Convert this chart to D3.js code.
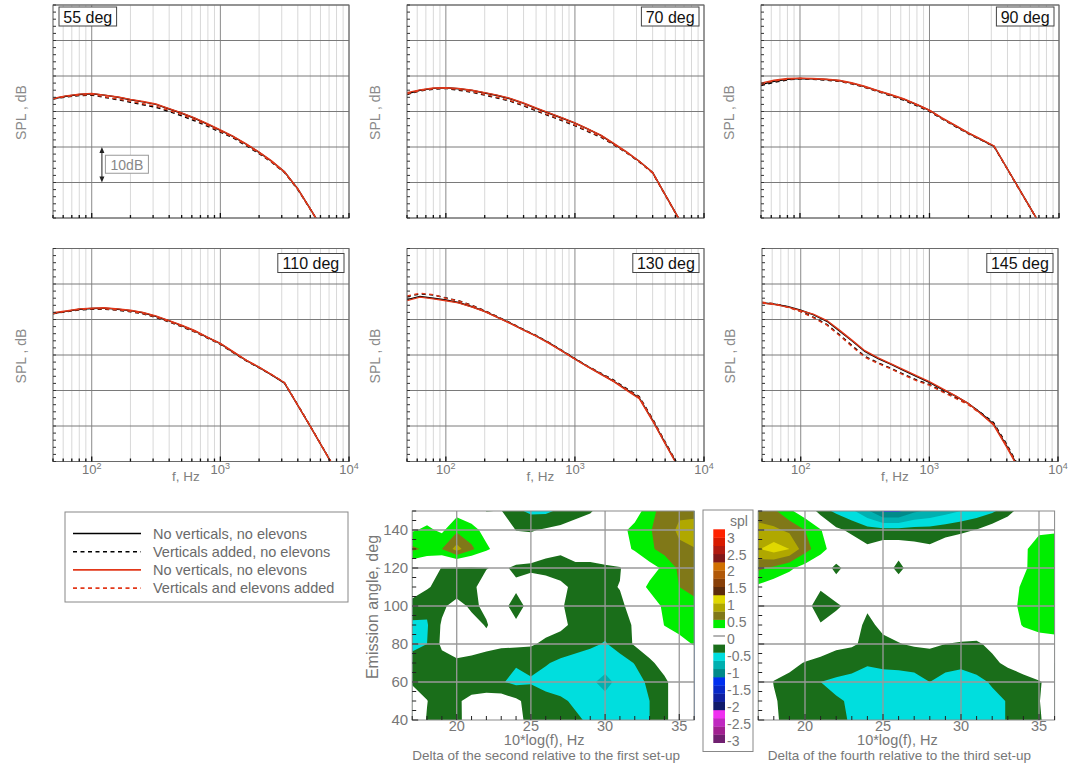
<!DOCTYPE html>
<html><head><meta charset="utf-8">
<script src="https://cdn.jsdelivr.net/npm/d3@7"></script>
<style>body{margin:0;background:#fff;} svg{display:block;font-family:"Liberation Sans",Arial,sans-serif;}</style>
</head><body><svg id="c" width="1071" height="767"></svg>
<script>
// ---------- DATA ----------
const frequencies = [50,63,80,100,125,160,200,250,315,400,500,630,800,1000,1250,1600,2000,2500,3150,4000,5000,6300,8000];
const panelAngles = [55,70,90,110,130,145];
const seriesLabels = ["No verticals, no elevons","Verticals added, no elevons","No verticals, no elevons","Verticals and elevons added"];

const spl55_black     = [73.6,74.3,74.8,75.0,74.6,74.0,73.3,72.7,72.0,70.7,69.5,68.1,66.4,64.7,63.0,60.7,58.5,56.0,53.0,48.2,42.6,36.6,30.5];
const spl55_blackDash = [73.5,74.1,74.5,74.6,74.0,73.3,72.6,71.9,71.2,70.0,68.8,67.4,65.8,64.2,62.6,60.3,58.1,55.7,52.8,48.0,42.5,36.5,30.4];
const spl55_red       = [73.7,74.4,74.9,75.1,74.6,74.1,73.4,72.8,72.1,70.8,69.6,68.2,66.5,64.8,63.1,60.8,58.6,56.1,53.0,48.2,42.6,36.6,30.5];
const spl55_redDash   = [73.6,74.2,74.6,74.8,74.2,73.5,72.9,72.2,71.5,70.3,69.1,67.7,66.1,64.4,62.8,60.5,58.3,55.8,52.9,48.1,42.5,36.5,30.4];

const spl70_black     = [75.0,76.0,76.5,76.7,76.4,75.9,75.2,74.5,73.6,72.3,70.9,69.5,68.1,66.7,65.1,63.2,60.9,58.6,56.0,52.8,46.6,40.2,33.5];
const spl70_blackDash = [74.8,75.8,76.3,76.5,76.0,75.4,74.6,73.8,72.9,71.6,70.2,68.8,67.4,66.0,64.4,62.7,60.6,58.4,55.8,52.7,46.5,40.1,33.4];
const spl70_red       = [75.3,76.1,76.6,76.7,76.5,76.0,75.3,74.6,73.7,72.4,71.0,69.6,68.2,66.8,65.2,63.3,61.0,58.7,56.0,52.8,46.6,40.2,33.5];
const spl70_redDash   = [75.0,75.9,76.4,76.6,76.2,75.6,74.8,74.0,73.1,71.8,70.4,69.0,67.6,66.2,64.6,62.9,60.7,58.5,55.9,52.7,46.5,40.1,33.4];

const spl90_black     = [77.6,78.5,79.1,79.3,79.2,79.0,78.7,78.0,77.0,75.8,74.7,73.5,71.9,70.3,68.1,65.9,63.9,62.1,60.2,53.8,47.8,41.6,35.0];
const spl90_blackDash = [77.3,78.2,78.9,79.2,79.1,78.8,78.5,77.8,76.8,75.6,74.4,73.2,71.6,70.0,67.9,65.7,63.7,62.0,60.1,53.7,47.7,41.5,34.9];
const spl90_red       = [78.0,78.8,79.3,79.4,79.3,79.1,78.8,78.1,77.1,75.9,74.8,73.6,72.0,70.4,68.2,66.0,64.0,62.2,60.3,53.8,47.8,41.6,35.0];
const spl90_redDash   = [77.7,78.6,79.1,79.3,79.2,79.0,78.6,77.9,76.9,75.7,74.6,73.4,71.8,70.2,68.0,65.8,63.8,62.1,60.2,53.7,47.7,41.5,34.9];

const spl110_black     = [81.7,82.3,82.9,83.1,83.2,82.9,82.5,81.9,80.9,79.6,78.3,76.8,74.9,73.2,70.9,68.4,66.5,64.4,62.1,55.8,49.9,43.6,37.1];
const spl110_blackDash = [81.6,82.2,82.7,82.9,82.9,82.6,82.2,81.6,80.6,79.3,78.0,76.5,74.7,73.0,70.7,68.3,66.4,64.4,62.2,55.9,50.0,43.7,37.2];
const spl110_red       = [81.9,82.4,83.0,83.2,83.3,83.0,82.6,82.0,81.0,79.7,78.4,76.9,75.0,73.3,71.0,68.5,66.6,64.5,62.2,55.8,49.9,43.6,37.1];
const spl110_redDash   = [81.7,82.3,82.8,83.0,83.0,82.7,82.3,81.7,80.7,79.4,78.1,76.6,74.8,73.1,70.8,68.4,66.5,64.5,62.2,55.9,50.0,43.7,37.2];

const spl130_black     = [85.6,86.5,86.0,85.5,84.8,83.6,82.3,80.7,79.0,77.1,75.4,73.4,71.1,68.9,66.8,64.6,62.6,60.3,57.9,51.6,45.2,38.7,32.2];
const spl130_blackDash = [86.4,87.2,86.9,86.1,85.3,84.0,82.5,80.8,79.1,77.2,75.5,73.5,71.2,69.0,66.9,64.8,62.9,60.6,58.3,52.0,45.5,39.0,32.5];
const spl130_red       = [85.3,86.3,85.8,85.3,84.7,83.5,82.2,80.6,78.9,77.0,75.3,73.3,71.0,68.8,66.7,64.5,62.5,60.1,57.7,51.4,45.0,38.5,32.0];
const spl130_redDash   = [86.6,87.4,87.0,86.0,85.2,83.9,82.4,80.7,79.0,77.1,75.4,73.4,71.1,68.9,66.8,64.7,62.7,60.4,58.1,51.8,45.3,38.8,32.3];

const spl145_black     = [84.7,84.3,83.6,82.6,81.4,79.5,76.8,74.0,71.0,69.0,67.4,65.7,63.9,62.3,60.4,58.4,56.4,53.7,50.6,44.3,37.9,31.3,24.8];
const spl145_blackDash = [84.8,84.4,83.5,82.3,80.7,78.6,75.7,72.7,69.6,67.8,66.3,64.6,62.9,61.7,59.9,58.0,56.2,53.8,51.0,44.8,38.3,31.7,25.2];
const spl145_red       = [84.6,84.2,83.5,82.5,81.5,79.7,77.0,74.2,71.2,69.2,67.6,65.9,64.1,62.5,60.6,58.5,56.4,53.5,50.3,44.0,37.6,31.0,24.5];
const spl145_redDash   = [84.9,84.4,83.4,82.2,80.5,78.4,75.5,72.4,69.4,67.6,66.1,64.4,62.7,61.5,59.7,57.8,56.0,53.5,50.6,44.4,38.0,31.4,24.9];

// contour grids: columns = 10*log(f) 17..36, rows = emission angle 40..150
const deltaLogF  = [17,18,19,20,21,22,23,24,25,26,27,28,29,30,31,32,33,34,35,36];
const deltaAngle = [40,50,60,70,80,90,100,110,120,130,140,150];
const delta2vs1 = [
 [0,-0.27,-0.4,-0.33,-0.1,0.05,0,-0.15,-0.35,-0.4,-0.42,-0.45,-0.55,-0.65,-0.7,-0.62,-0.5,-0.3,-0.1,0],
 [0,-0.24,-0.45,-0.3,-0.15,-0.1,-0.1,-0.2,-0.35,-0.4,-0.45,-0.55,-0.65,-0.7,-0.7,-0.62,-0.5,-0.3,-0.1,0],
 [-0.3,-0.4,-0.4,-0.42,-0.45,-0.45,-0.48,-0.56,-0.52,-0.6,-0.65,-0.7,-0.72,-0.8,-0.7,-0.6,-0.45,-0.3,-0.1,0],
 [-0.35,-0.4,-0.35,-0.3,-0.35,-0.4,-0.42,-0.48,-0.45,-0.48,-0.55,-0.6,-0.65,-0.68,-0.6,-0.49,-0.3,-0.15,0,0],
 [-0.6,-0.5,-0.2,-0.1,-0.1,-0.15,-0.2,-0.2,-0.22,-0.3,-0.35,-0.4,-0.45,-0.52,-0.4,-0.22,-0.1,0,0.15,0.27],
 [-0.55,-0.52,-0.22,-0.1,-0.15,-0.27,-0.1,-0.2,-0.1,-0.15,-0.2,-0.3,-0.4,-0.4,-0.35,-0.22,-0.05,0.26,0.35,0.4],
 [-0.35,-0.45,-0.3,-0.15,-0.3,-0.2,-0.15,-0.36,-0.15,-0.1,-0.22,-0.35,-0.4,-0.4,-0.3,-0.15,0.1,0.3,0.45,0.45],
 [-0.1,-0.22,-0.35,-0.4,-0.3,-0.15,-0.1,-0.2,-0.1,-0.1,-0.2,-0.3,-0.32,-0.3,-0.24,0.1,0.3,0.4,0.5,0.55],
 [0,-0.1,-0.26,-0.28,-0.28,-0.26,-0.2,-0.3,-0.3,-0.35,-0.35,-0.32,-0.32,-0.3,-0.27,0,0.15,0.3,0.55,0.6],
 [0.55,0.45,0.5,0.85,0.55,0.3,0.1,0,-0.1,-0.15,-0.2,-0.1,-0.1,0,0.15,0.28,0.45,0.6,0.7,0.74],
 [0.22,0.3,0.2,0.45,0.35,0.15,0,-0.26,-0.27,-0.22,-0.18,-0.12,-0.05,0,0.15,0.35,0.48,0.62,0.8,0.85],
 [0,0.1,0.05,0.15,0.05,-0.26,-0.24,-0.45,-0.55,-0.55,-0.45,-0.35,-0.28,-0.1,0,0.1,0.42,0.6,0.7,0.68]
];
const delta4vs3 = [
 [0,-0.2,-0.35,-0.4,-0.4,-0.45,-0.52,-0.6,-0.65,-0.65,-0.65,-0.65,-0.65,-0.65,-0.6,-0.55,-0.49,-0.4,-0.28,-0.1],
 [0,-0.22,-0.35,-0.4,-0.45,-0.48,-0.52,-0.6,-0.65,-0.65,-0.65,-0.65,-0.65,-0.65,-0.6,-0.55,-0.49,-0.38,-0.26,-0.1],
 [-0.05,-0.26,-0.3,-0.4,-0.5,-0.55,-0.58,-0.6,-0.6,-0.58,-0.58,-0.5,-0.58,-0.6,-0.55,-0.48,-0.4,-0.35,-0.27,-0.15],
 [0,-0.1,-0.2,-0.26,-0.3,-0.35,-0.4,-0.48,-0.45,-0.45,-0.42,-0.4,-0.42,-0.45,-0.42,-0.3,-0.2,-0.1,0,0],
 [0,0,-0.05,-0.1,-0.15,-0.2,-0.22,-0.3,-0.3,-0.26,-0.22,-0.2,-0.25,-0.27,-0.28,-0.2,-0.1,0,0.1,0.15],
 [0,0,0,-0.05,-0.22,-0.1,-0.15,-0.3,-0.2,-0.15,-0.1,-0.1,-0.1,-0.1,-0.1,-0.05,0.05,0.28,0.35,0.35],
 [0,0,-0.05,-0.1,-0.45,-0.3,-0.15,-0.22,-0.05,0,0,0,0,0,0,0,0.1,0.35,0.4,0.4],
 [0.2,0.1,0.05,0,-0.2,-0.05,0,0,0,-0.05,0,0,0,0,0,0,0.1,0.3,0.4,0.4],
 [0.55,0.45,0.3,0.15,0,-0.35,-0.05,0,-0.05,-0.35,-0.05,0,0,0,0,0,0.05,0.2,0.4,0.4],
 [0.98,1.12,1.0,0.6,0.35,0.1,-0.1,-0.2,-0.1,-0.1,-0.15,-0.2,-0.1,-0.05,0,0,0,0.2,0.38,0.38],
 [0.85,0.8,0.7,0.5,0.28,-0.2,-0.3,-0.4,-0.42,-0.42,-0.4,-0.4,-0.35,-0.3,-0.24,-0.1,0,0.05,0.2,0.22],
 [0.6,0.55,0.3,0.1,-0.4,-0.55,-0.7,-0.95,-1.3,-1.3,-1.05,-0.95,-0.85,-0.75,-0.65,-0.55,-0.35,-0.1,0,0]
];
const splLevels = [-3.25,-3,-2.75,-2.5,-2.25,-2,-1.75,-1.5,-1.25,-1,-0.75,-0.5,-0.25,0,0.25,0.5,0.75,1,1.25,1.5,1.75,2,2.25,2.5,2.75,3];
const splColors = ["#702070","#a02090","#c028c0","#f030f0","#101a6a","#1020a0","#0828c8","#0030f0","#008a8a","#00b0b0","#00dede","#1a6e1a","#ffffff","#ffffff","#00ee00","#807818","#b0a800","#e0d800","#5c2c0c","#884008","#b05808","#d07000","#801818","#b01a10","#d81a00","#ff2200"];
const splLabels = [3,2.5,2,1.5,1,0.5,0,-0.5,-1,-1.5,-2,-2.5,-3];
const xTickLabels = [20,25,30,35];
const yTickLabels = [40,60,80,100,120,140];

// ---------- DRAW ----------
const svg = d3.select("#c");
const RED = "#e2381a";
const styles = [
  {stroke:"#000", dash:null},
  {stroke:"#000", dash:"4,3.5"},
  {stroke:RED, dash:null},
  {stroke:RED, dash:"4,3.5"}
];
const panelData = [
  [spl55_black,spl55_blackDash,spl55_red,spl55_redDash],
  [spl70_black,spl70_blackDash,spl70_red,spl70_redDash],
  [spl90_black,spl90_blackDash,spl90_red,spl90_redDash],
  [spl110_black,spl110_blackDash,spl110_red,spl110_redDash],
  [spl130_black,spl130_blackDash,spl130_red,spl130_redDash],
  [spl145_black,spl145_blackDash,spl145_red,spl145_redDash]
];
const layout = [
  {left:53, top:5, w:296},
  {left:407, top:5, w:297},
  {left:761, top:5, w:298},
  {left:53, top:248.5, w:296},
  {left:407, top:248.5, w:297},
  {left:762, top:248.5, w:296}
];
const PH = 213;
const defs = svg.append("defs");

layout.forEach((L,i)=>{
  const x = d3.scaleLog().domain([50,10000]).range([L.left, L.left+L.w]);
  const y = d3.scaleLinear().domain([40,100]).range([L.top+PH, L.top]);
  const g = svg.append("g");
  const cid = "clip"+i;
  defs.append("clipPath").attr("id",cid).append("rect")
    .attr("x",L.left).attr("y",L.top).attr("width",L.w).attr("height",PH);
  const isMajor = d=>{const l=Math.log10(d);return Math.abs(l-Math.round(l))<1e-9;};
  const xt = x.ticks();
  g.selectAll(".vg").data(xt).join("line")
    .attr("x1",d=>x(d)).attr("x2",d=>x(d)).attr("y1",L.top).attr("y2",L.top+PH)
    .attr("stroke",d=>isMajor(d)?"#8a8a8a":"#d8d8d8").attr("stroke-width",1);
  g.selectAll(".hg").data(y.ticks(6)).join("line")
    .attr("x1",L.left).attr("x2",L.left+L.w).attr("y1",d=>y(d)).attr("y2",d=>y(d))
    .attr("stroke","#7a7a7a").attr("stroke-width",1);
  const line = d3.line().x((d,j)=>x(frequencies[j])).y(d=>y(d));
  const cg = g.append("g").attr("clip-path",`url(#${cid})`);
  [0,1,3,2].forEach(s=>{
    cg.append("path").datum(panelData[i][s]).attr("d",line)
      .attr("fill","none").attr("stroke",styles[s].stroke).attr("stroke-width",1.4)
      .attr("stroke-dasharray",styles[s].dash);
  });
  g.append("rect").attr("x",L.left).attr("y",L.top).attr("width",L.w).attr("height",PH)
    .attr("fill","none").attr("stroke","#6a6a6a").attr("stroke-width",1);
  g.selectAll(".bt").data(xt).join("line")
    .attr("x1",d=>x(d)).attr("x2",d=>x(d)).attr("y1",L.top+PH)
    .attr("y2",d=>L.top+PH-(isMajor(d)?5:3))
    .attr("stroke","#111").attr("stroke-width",1.3);
  g.selectAll(".lt").data(y.ticks(30)).join("line")
    .attr("x1",L.left).attr("x2",L.left+3).attr("y1",d=>y(d)).attr("y2",d=>y(d))
    .attr("stroke","#333").attr("stroke-width",1);
  g.append("text").attr("transform",`translate(${L.left-32},${L.top+PH/2+1}) rotate(-90)`)
    .attr("text-anchor","middle").attr("dy","0.35em").attr("fill","#8a8a8a")
    .attr("font-size",14).text("SPL , dB");
  if (i>=3){
    [100,1000,10000].forEach((v,k)=>{
      const t = g.append("text").attr("x",x(v)).attr("y",L.top+PH+12.5).attr("text-anchor","middle")
        .attr("fill","#777").attr("font-size",13);
      t.append("tspan").text("10");
      t.append("tspan").attr("dy",-5).attr("font-size",9).text(String(k+2));
    });
    g.append("text").attr("x",L.left+L.w/2-15).attr("y",L.top+PH+19).attr("text-anchor","middle")
      .attr("fill","#808080").attr("font-size",13.5).text("f, Hz");
  }
  const label = panelAngles[i]+" deg";
  const tw = label.length*8.6+6;
  const bx = (i===0) ? L.left+6 : L.left+L.w-5-tw;
  const by = L.top+ (i<3?2:5);
  g.append("rect").attr("x",bx).attr("y",by).attr("width",tw).attr("height",19)
    .attr("fill","#fff").attr("stroke","#444").attr("stroke-width",1);
  g.append("text").attr("x",bx+tw/2).attr("y",by+15.5).attr("text-anchor","middle")
    .attr("font-size",16).attr("fill","#111").text(label);
  if (i===0){
    const ax = x(120), y1 = y(60), y2 = y(50);
    g.append("line").attr("x1",ax).attr("x2",ax).attr("y1",y1+4).attr("y2",y2-4).attr("stroke","#222");
    g.append("path").attr("d",`M${ax},${y1} l-2.5,6 h5 z M${ax},${y2} l-2.5,-6 h5 z`).attr("fill","#222");
    g.append("rect").attr("x",ax+3.5).attr("y",(y1+y2)/2-9.5).attr("width",43).attr("height",18)
      .attr("fill","#fff").attr("stroke","#999");
    g.append("text").attr("x",ax+25).attr("y",(y1+y2)/2+5).attr("text-anchor","middle")
      .attr("font-size",14).attr("fill","#888").text("10dB");
  }
});

// ---------- LEGEND ----------
const lg = svg.append("g");
lg.append("rect").attr("x",65).attr("y",512).attr("width",283).attr("height",90)
  .attr("fill","#fff").attr("stroke","#888");
seriesLabels.forEach((s,k)=>{
  const yy = 533.5 + k*18.2;
  lg.append("line").attr("x1",73).attr("x2",141).attr("y1",yy).attr("y2",yy)
    .attr("stroke",styles[k].stroke).attr("stroke-width",1.6).attr("stroke-dasharray",styles[k].dash);
  lg.append("text").attr("x",153).attr("y",yy+5).attr("font-size",14.5).attr("fill","#6a6a6a").text(s);
});

// ---------- CONTOUR PLOTS ----------
const yC = d3.scaleLinear().domain([40,150]).range([720,511]);
function contourPlot(grid, x0, x1, idx, title, showY){
  const xC = d3.scaleLinear().domain([17,36]).range([x0,x1]);
  const g = svg.append("g");
  const cid = "cclip"+idx;
  defs.append("clipPath").attr("id",cid).append("rect")
    .attr("x",x0).attr("y",511).attr("width",x1-x0).attr("height",209);
  const n = deltaLogF.length, m = deltaAngle.length;
  const stepX = deltaLogF[1]-deltaLogF[0], stepY = deltaAngle[1]-deltaAngle[0];
  const values = grid.flat();
  const cs = d3.contours().size([n,m]).thresholds(splLevels)(values);
  const proj = d3.geoTransform({point:function(px,py){
    this.stream.point(xC(deltaLogF[0]+(px-0.5)*stepX), yC(deltaAngle[0]+(py-0.5)*stepY));
  }});
  const path = d3.geoPath(proj);
  const cg = g.append("g").attr("clip-path",`url(#${cid})`);
  cg.append("rect").attr("x",x0).attr("y",511).attr("width",x1-x0).attr("height",209).attr("fill","#fff");
  cg.selectAll("path").data(cs).join("path").attr("d",path)
    .attr("fill",d=>splColors[splLevels.indexOf(d.value)]).attr("stroke","none");
  g.selectAll(".gx").data(xTickLabels).join("line")
    .attr("x1",d=>xC(d)).attr("x2",d=>xC(d)).attr("y1",511).attr("y2",720)
    .attr("stroke","#9a9a9a").attr("stroke-width",1.3);
  g.selectAll(".gy").data([60,80,100,120,140]).join("line")
    .attr("x1",x0).attr("x2",x1).attr("y1",d=>yC(d)).attr("y2",d=>yC(d))
    .attr("stroke","#9a9a9a").attr("stroke-width",1.3);
  g.append("rect").attr("x",x0).attr("y",511).attr("width",x1-x0).attr("height",209)
    .attr("fill","none").attr("stroke","#8a8a8a");
  g.selectAll(".tb").data(d3.range(17,37)).join("line")
    .attr("x1",d=>xC(d)).attr("x2",d=>xC(d)).attr("y1",720).attr("y2",d=>720-(d%5===0?6:4))
    .attr("stroke","#222");
  g.selectAll(".tl").data(d3.range(40,151,5)).join("line")
    .attr("y1",d=>yC(d)).attr("y2",d=>yC(d)).attr("x1",x0).attr("x2",d=>x0+(d%20===0?6:4))
    .attr("stroke","#222");
  g.selectAll(".xl").data(xTickLabels).join("text")
    .attr("x",d=>xC(d)).attr("y",731).attr("text-anchor","middle")
    .attr("font-size",14.5).attr("fill","#777").text(d=>d);
  if (showY){
    g.selectAll(".yl").data(yTickLabels).join("text")
      .attr("x",x0-4).attr("y",d=>yC(d)).attr("dy","0.35em").attr("text-anchor","end")
      .attr("font-size",15).attr("fill","#777").text(d=>d);
    g.append("text").attr("transform",`translate(${x0-40},607) rotate(-90)`)
      .attr("text-anchor","middle").attr("dy","0.35em").attr("font-size",16).attr("fill","#777")
      .text("Emission angle, deg");
  }
  g.append("text").attr("x",(x0+x1)/2-9).attr("y",745).attr("text-anchor","middle")
    .attr("font-size",14.5).attr("fill","#777").text("10*log(f), Hz");
  g.append("text").attr("x",(x0+x1)/2-7).attr("y",760).attr("text-anchor","middle")
    .attr("font-size",13.5).attr("fill","#777").text(title);
}
contourPlot(delta2vs1, 412.2, 694.1, 1, "Delta of the second relative to the first set-up", true);

// ---------- COLORBAR ----------
const cb = svg.append("g");
cb.append("rect").attr("x",703).attr("y",510).attr("width",50).attr("height",241.5)
  .attr("fill","#fff").attr("stroke","#888");
const bandY = d3.scaleLinear().domain([3.25,-3.25]).range([529.3,742.7]);
const labY = d3.scaleLinear().domain([3,-3]).range([537.7,741]);
cb.selectAll(".band").data(splLevels).join("rect")
  .attr("x",713.3).attr("width",11.7)
  .attr("y",d=>bandY(d+0.25)).attr("height",d=>bandY(d)-bandY(d+0.25)+0.3)
  .attr("fill",(d,i)=>splColors[i]);
cb.append("line").attr("x1",713.3).attr("x2",725).attr("y1",bandY(0)).attr("y2",bandY(0))
  .attr("stroke","#999").attr("stroke-width",1.5);
cb.selectAll(".lab").data(splLabels).join("text")
  .attr("x",727).attr("y",d=>labY(d)).attr("dy","0.35em")
  .attr("font-size",14).attr("fill","#777").text(d=>d);
cb.append("text").attr("x",739).attr("y",521).attr("dy","0.35em").attr("text-anchor","middle")
  .attr("font-size",14).attr("fill","#777").text("spl");

contourPlot(delta4vs3, 758.2, 1054.6, 2, "Delta of the fourth relative to the third set-up", false);
</script>
</body></html>
